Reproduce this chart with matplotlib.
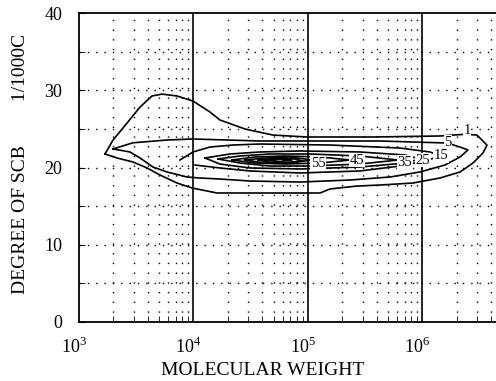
import numpy as np
import matplotlib
matplotlib.use("Agg")
import matplotlib.pyplot as plt
import matplotlib.transforms as mtransforms
from matplotlib.ticker import FixedLocator, NullFormatter

plt.rcParams['font.family'] = ['Liberation Serif', 'DejaVu Serif']
plt.rcParams['mathtext.fontset'] = 'custom'
plt.rcParams['mathtext.rm'] = 'Liberation Serif'

# ---- contour paths: log10(MW) and SCB (1/1000C) ----
c1_lm  = [3.227, 3.297, 3.42, 3.533, 3.638, 3.725, 3.856, 3.996, 4.144, 4.231, 4.45, 4.694, 4.99,
          5.568, 6.153, 6.371, 6.476, 6.563, 6.528, 6.441, 6.328, 6.153, 5.917, 5.629, 5.428,
          5.192, 5.105, 4.493, 4.205, 3.987, 3.856, 3.707, 3.594, 3.472, 3.332, 3.227]
c1_scb = [21.75, 23.55, 25.76, 27.83, 29.26, 29.5, 29.26, 28.6, 27.18, 26.15, 24.98, 24.2, 23.95,
          23.95, 24.08, 24.3, 24.2, 22.9, 21.87, 20.58, 19.42, 18.64, 17.99, 17.73, 17.6,
          17.22, 16.7, 16.7, 16.7, 17.35, 17.99, 19.03, 19.94, 20.71, 21.23, 21.75]

c5_lm  = [3.297, 3.472, 3.769, 3.996, 4.293, 4.58, 5.105, 5.629, 6.214, 6.328, 6.397, 6.328, 6.197,
          5.978, 5.716, 5.367, 4.93, 4.493, 4.231, 4.057, 3.943, 3.769, 3.646, 3.533, 3.445, 3.297]
c5_scb = [22.4, 23.2, 23.56, 23.69, 23.56, 23.43, 23.43, 23.43, 23.17, 22.65, 22.27, 21.36, 20.32,
          19.42, 18.77, 18.38, 18.12, 18.25, 18.51, 18.64, 18.77, 19.42, 20.06, 21.23, 22.01, 22.4]

c15_lm  = [3.882, 3.996, 4.144, 4.345, 4.581, 5.192, 5.803, 6.066, 6.153, 6.022, 5.803, 5.454,
           4.93, 4.493, 4.231, 4.013]
c15_scb = [20.97, 22.01, 22.65, 22.91, 23.04, 22.91, 22.52, 22.01, 21.49, 20.84, 20.19, 19.55,
           19.29, 19.55, 19.94, 20.32]

c25_lm  = [4.1, 4.319, 4.581, 4.93, 5.454, 5.847, 5.978, 5.847, 5.454, 4.93, 4.493, 4.231, 4.1]
c25_scb = [21.23, 21.75, 22.01, 22.14, 22.01, 21.62, 21.1, 20.58, 20.06, 19.81, 19.94, 20.45, 21.23]

c35_lm  = [4.214, 4.406, 4.668, 5.017, 5.454, 5.786, 5.454, 5.017, 4.668, 4.406, 4.214]
c35_scb = [21.1, 21.49, 21.75, 21.75, 21.49, 20.97, 20.45, 20.19, 20.19, 20.58, 21.1]

c45_lm  = [4.336, 4.537, 4.799, 5.105, 5.367, 5.105, 4.799, 4.537, 4.336]
c45_scb = [20.97, 21.36, 21.49, 21.36, 20.97, 20.58, 20.45, 20.58, 20.97]

c55_lm  = [4.45, 4.624, 4.843, 5.035, 4.843, 4.624, 4.45]
c55_scb = [20.97, 21.23, 21.36, 20.97, 20.58, 20.58, 20.97]

c65_lm  = [4.563, 4.712, 4.886, 4.956, 4.799, 4.650, 4.563]
c65_scb = [20.97, 21.17, 21.1, 20.84, 20.65, 20.71, 20.97]

c75_lm  = [4.624, 4.755, 4.86, 4.755, 4.624]
c75_scb = [20.97, 21.1, 20.97, 20.78, 20.97]

label_text = ["1", "5", "15", "25", "35", "45", "55"]
label_lm   = [6.389, 6.223, 6.162, 6.004, 5.847, 5.428, 5.087]
label_scb  = [24.85, 23.3, 21.49, 20.97, 20.71, 20.97, 20.58]

x_major = [1e3, 1e4, 1e5, 1e6]
x_labels = [r'$10^{3}$', r'$10^{4}$', r'$10^{5}$', r'$10^{6}$']
y_major = [0, 10, 20, 30, 40]

fig = plt.figure(figsize=(4.96, 3.81), dpi=100)
ax = fig.add_axes([79/496, 59/381, 1 - 79/496, 309/381])

ax.set_xscale('log')
ax.set_xlim(1e3, 10**6.642)
ax.set_ylim(0, 40)

# grid: dotted at minor decades and every 5 units; solid at decades
minor = [m * 10**e for e in range(3, 7) for m in range(2, 10) if m * 10**e < 10**6.642]
for xv in minor:
    ax.axvline(xv, color='black', lw=1.0, ls=(0, (1, 6)), zorder=1)
for yv in [5, 10, 15, 20, 25, 30, 35]:
    ax.axhline(yv, color='black', lw=1.0, ls=(0, (1, 5)), zorder=1)
for xv in [1e4, 1e5, 1e6]:
    ax.axvline(xv, color='black', lw=1.2, zorder=2)

paths = [(c1_lm, c1_scb), (c5_lm, c5_scb), (c15_lm, c15_scb), (c25_lm, c25_scb),
         (c35_lm, c35_scb), (c45_lm, c45_scb), (c55_lm, c55_scb), (c65_lm, c65_scb),
         (c75_lm, c75_scb)]
for lm, sc in paths:
    ax.plot(10**np.array(lm), sc, color='black', lw=1.2, zorder=3)

for t, lm, sc in zip(label_text, label_lm, label_scb):
    ax.text(10**lm, sc, t, fontsize=10.5, ha='center', va='center', zorder=4,
            bbox=dict(facecolor='white', edgecolor='none', pad=0.2))

ax.xaxis.set_major_locator(FixedLocator(x_major))
ax.set_xticklabels(x_labels)
ax.xaxis.set_minor_locator(FixedLocator(minor))
ax.xaxis.set_minor_formatter(NullFormatter())
ax.set_yticks(y_major)
ax.yaxis.set_minor_locator(FixedLocator([5, 15, 25, 35]))

ax.tick_params(axis='both', which='both', direction='in', top=False, right=False)
ax.tick_params(axis='x', which='major', length=0, pad=11, labelsize=13)
ax.tick_params(axis='x', which='minor', length=4)
ax.tick_params(axis='y', which='major', length=4, pad=12, labelsize=13)
ax.tick_params(axis='y', which='minor', length=4)

shift = mtransforms.ScaledTranslation(-5/100, 0, fig.dpi_scale_trans)
for lab in ax.get_xticklabels():
    lab.set_transform(lab.get_transform() + shift)

ax.spines['right'].set_visible(False)
for s in ['left', 'bottom', 'top']:
    ax.spines[s].set_linewidth(1.3)

ax.set_xlabel('MOLECULAR WEIGHT', fontsize=14)
ax.xaxis.set_label_coords((263 - 79) / (496 - 79), -40/309)
ax.set_ylabel('DEGREE OF SCB         1/1000C', fontsize=14)
ax.yaxis.set_label_coords(-(79 - 29) / 417, 0.513)

fig.savefig('out.png', dpi=100)
